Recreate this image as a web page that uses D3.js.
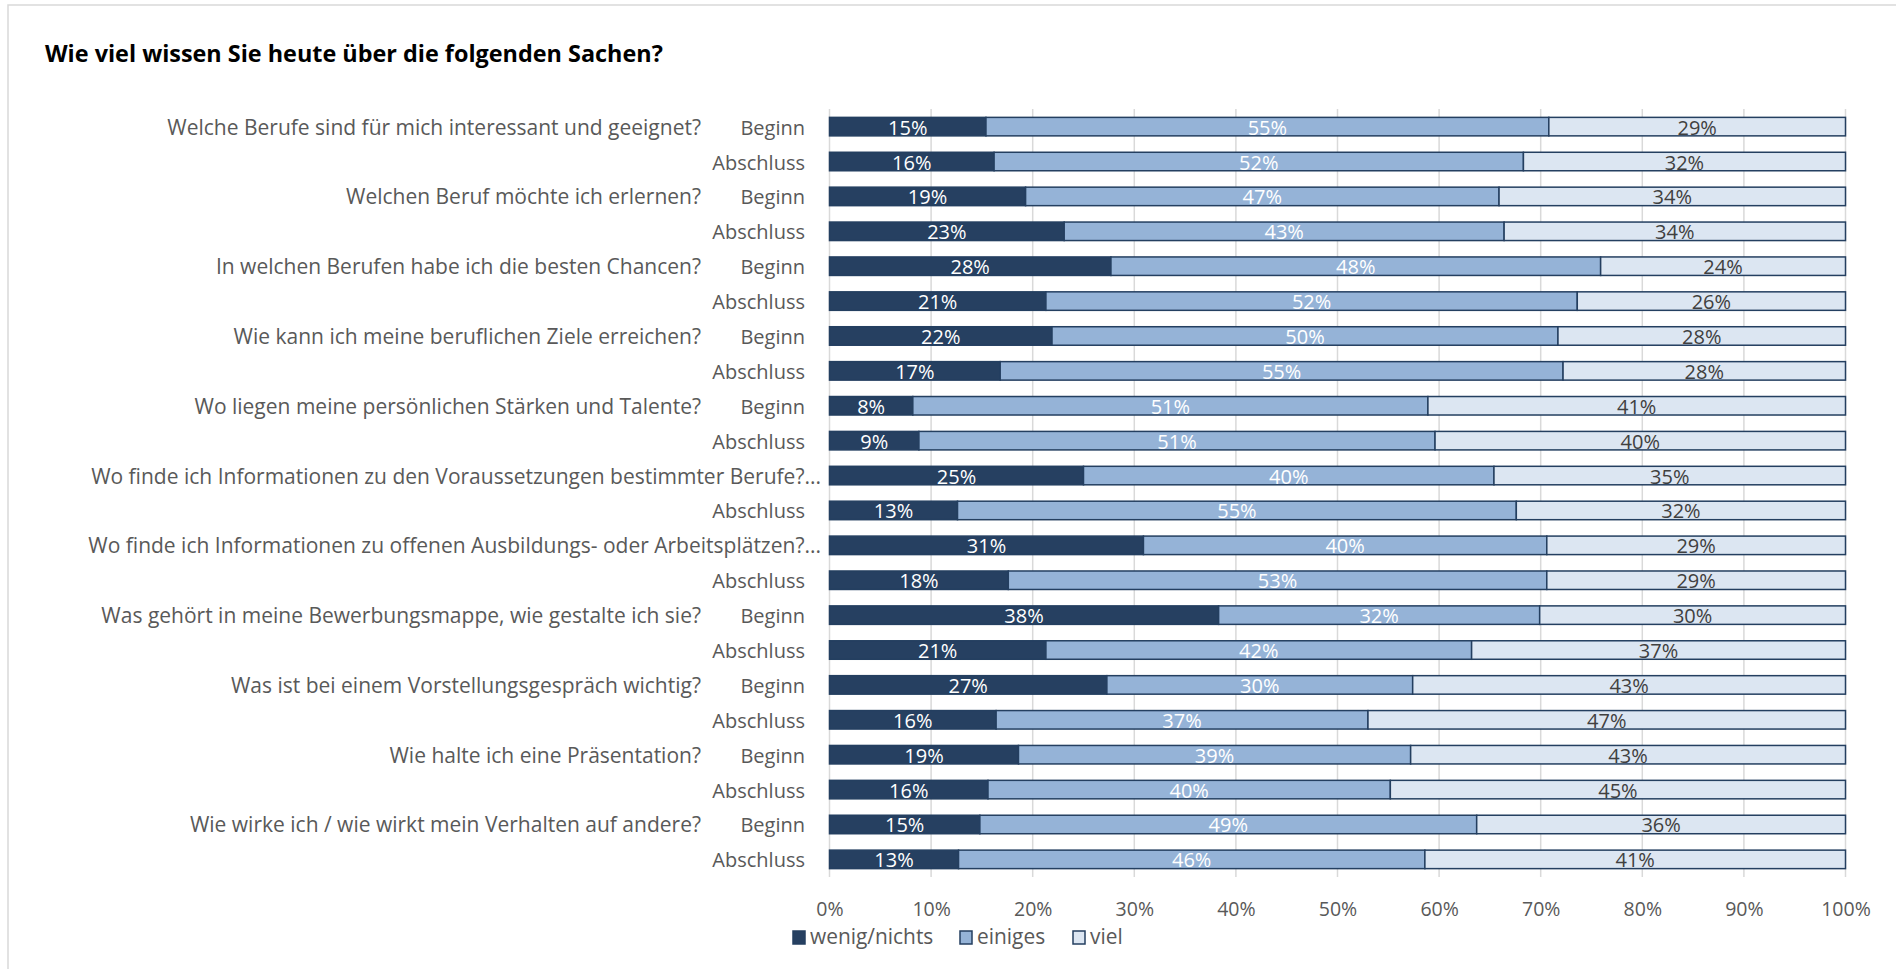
<!DOCTYPE html>
<html>
<head>
<meta charset="utf-8">
<script src="https://cdn.jsdelivr.net/npm/d3@7"></script>
<style>
  body { margin: 0; background: #fff; }
  text { font-family: "Open Sans", sans-serif; }
  .title { font-size: 23.4px; font-weight: bold; fill: #000; }
  .catLabel { font-size: 20px; fill: #595959; }
  .questionLabel { font-size: 21px; }
  .barLabel { font-size: 20px; }
  .axis text { font-size: 19.5px; fill: #595959; font-family: "Open Sans", sans-serif; }
  .gridLine { stroke: #d9d9d9; stroke-width: 1.5; }
  .legendText { font-size: 20.9px; fill: #595959; }
</style>
</head>
<body>
<div id="chart"></div>
<script>
// chart data
var questions = [
  "Welche Berufe sind für mich interessant und geeignet?",
  "Welchen Beruf möchte ich erlernen?",
  "In welchen Berufen habe ich die besten Chancen?",
  "Wie kann ich meine beruflichen Ziele erreichen?",
  "Wo liegen meine persönlichen Stärken und Talente?",
  "Wo finde ich Informationen zu den Voraussetzungen bestimmter Berufe?...",
  "Wo finde ich Informationen zu offenen Ausbildungs- oder Arbeitsplätzen?...",
  "Was gehört in meine Bewerbungsmappe, wie gestalte ich sie?",
  "Was ist bei einem Vorstellungsgespräch wichtig?",
  "Wie halte ich eine Präsentation?",
  "Wie wirke ich / wie wirkt mein Verhalten auf andere?"
];
var phases = ["Beginn", "Abschluss"];
var seriesNames = ["wenig/nichts", "einiges", "viel"];

// percentages, one per row (Beginn, Abschluss for each question)
var wenig = [15.4, 16.2, 19.3, 23.1, 27.7, 21.3, 21.9, 16.8, 8.2, 8.8, 25.0,
  12.6, 30.9, 17.6, 38.3, 21.3, 27.3, 16.4, 18.6, 15.6, 14.8, 12.7];
var einiges = [55.4, 52.1, 46.6, 43.3, 48.2, 52.3, 49.8, 55.4, 50.7, 50.8, 40.4,
  55.0, 39.7, 53.0, 31.6, 41.9, 30.1, 36.6, 38.6, 39.6, 48.9, 45.9];
var viel = [29.2, 31.7, 34.1, 33.6, 24.1, 26.4, 28.3, 27.8, 41.1, 40.4, 34.6,
  32.4, 29.4, 29.4, 30.1, 36.8, 42.6, 47.0, 42.8, 44.8, 36.3, 41.4];

var xTicks = [0, 0.1, 0.2, 0.3, 0.4, 0.5, 0.6, 0.7, 0.8, 0.9, 1];

// build rows
var rows = [];
questions.forEach(function(q, qi){
  phases.forEach(function(p, pi){
    var i = qi * 2 + pi;
    rows.push({
      id: i,
      question: pi == 0 ? q : "",
      phase: p,
      "wenig/nichts": wenig[i],
      "einiges": einiges[i],
      "viel": viel[i]
    });
  });
});

// area space
var width = 1896;
var height = 969;
var plot = {left: 829.5, right: 1845.5, top: 109, bottom: 877};

var svg = d3.select("#chart")
  .append("svg")
  .attr("width", width)
  .attr("height", height);

// outer frame
svg.append("rect")
  .attr("x", 8)
  .attr("y", 5)
  .attr("width", width)
  .attr("height", height)
  .style("fill", "none")
  .style("stroke", "#d9d9d9")
  .style("stroke-width", 1.5);

svg.append("text")
  .attr("class", "title")
  .attr("x", 45)
  .attr("y", 62)
  .text("Wie viel wissen Sie heute über die folgenden Sachen?");

// scales
var xScale = d3.scaleLinear()
  .domain([0, 1])
  .range([plot.left, plot.right]);

var yScale = d3.scaleBand()
  .domain(rows.map(function(d){ return d.id; }))
  .range([plot.top, plot.bottom])
  .paddingInner(0.47)
  .paddingOuter(0.24);

var colors = d3.scaleOrdinal()
  .domain(seriesNames)
  .range(["#264061", "#95b3d7", "#dce6f2"]);

var labelColors = d3.scaleOrdinal()
  .domain(seriesNames)
  .range(["#ffffff", "#ffffff", "#404040"]);

// gridlines
svg.append("g")
  .selectAll("line")
  .data(xTicks)
  .enter()
  .append("line")
  .attr("class", "gridLine")
  .attr("x1", function(d){ return xScale(d); })
  .attr("x2", function(d){ return xScale(d); })
  .attr("y1", plot.top)
  .attr("y2", plot.bottom);

// stacked bars
var stack = d3.stack()
  .keys(seriesNames)
  .offset(d3.stackOffsetExpand);

var series = stack(rows);

var groups = svg.append("g")
  .selectAll("g")
  .data(series)
  .enter()
  .append("g")
  .style("fill", function(d){ return colors(d.key); });

groups.selectAll("rect")
  .data(function(d){ return d; })
  .enter()
  .append("rect")
  .attr("x", function(d){ return xScale(d[0]); })
  .attr("y", function(d){ return yScale(d.data.id); })
  .attr("width", function(d){ return xScale(d[1]) - xScale(d[0]); })
  .attr("height", yScale.bandwidth())
  .style("stroke", "#243f60")
  .style("stroke-width", 1.5);

// data labels
groups.each(function(s){
  d3.select(this).selectAll("text")
    .data(s)
    .enter()
    .append("text")
    .attr("class", "barLabel")
    .attr("x", function(d){ return xScale((d[0] + d[1]) / 2); })
    .attr("y", function(d){ return yScale(d.data.id) + yScale.bandwidth() / 2 + 8; })
    .attr("text-anchor", "middle")
    .style("fill", labelColors(s.key))
    .text(function(d){ return d3.format(".0f")(d.data[s.key]) + "%"; });
});

// category labels
var catWrapper = svg.append("g");

catWrapper.selectAll(".phaseLabel")
  .data(rows.filter(function(d){ return !/\.\.\.$/.test(d.question); }))
  .enter()
  .append("text")
  .attr("class", "catLabel phaseLabel")
  .attr("x", plot.left - 24.5)
  .attr("y", function(d){ return yScale(d.id) + yScale.bandwidth() / 2 + 8; })
  .attr("text-anchor", "end")
  .text(function(d){ return d.phase; });

catWrapper.selectAll(".questionLabel")
  .data(rows.filter(function(d){ return d.question != ""; }))
  .enter()
  .append("text")
  .attr("class", "catLabel questionLabel")
  .attr("x", function(d){
    return /\.\.\.$/.test(d.question) ? plot.left - 8.5 : plot.left - 128.5;
  })
  .attr("y", function(d){ return yScale(d.id) + yScale.bandwidth() / 2 + 8; })
  .attr("text-anchor", "end")
  .text(function(d){ return d.question; });

// x-axis
var xAxis = d3.axisBottom(xScale)
  .tickValues(xTicks)
  .tickSize(0)
  .tickPadding(0)
  .tickFormat(d3.format(".0%"));

svg.append("g")
  .attr("class", "axis")
  .attr("transform", "translate(0," + 902 + ")")
  .call(xAxis)
  .call(function(g){ g.select(".domain").remove(); })
  .selectAll("text")
  .attr("dy", "0.71em");

// legend
var legendX = [793, 960, 1073];

var legend = svg.append("g")
  .selectAll("g")
  .data(seriesNames)
  .enter()
  .append("g")
  .attr("transform", function(d, i){ return "translate(" + legendX[i] + "," + 931 + ")"; });

legend.append("rect")
  .attr("width", 12)
  .attr("height", 13)
  .style("fill", function(d){ return colors(d); })
  .style("stroke", "#243f60")
  .style("stroke-width", 1.5);

legend.append("text")
  .attr("class", "legendText")
  .attr("x", 17)
  .attr("y", 13)
  .text(function(d){ return d; });
</script>
</body>
</html>
